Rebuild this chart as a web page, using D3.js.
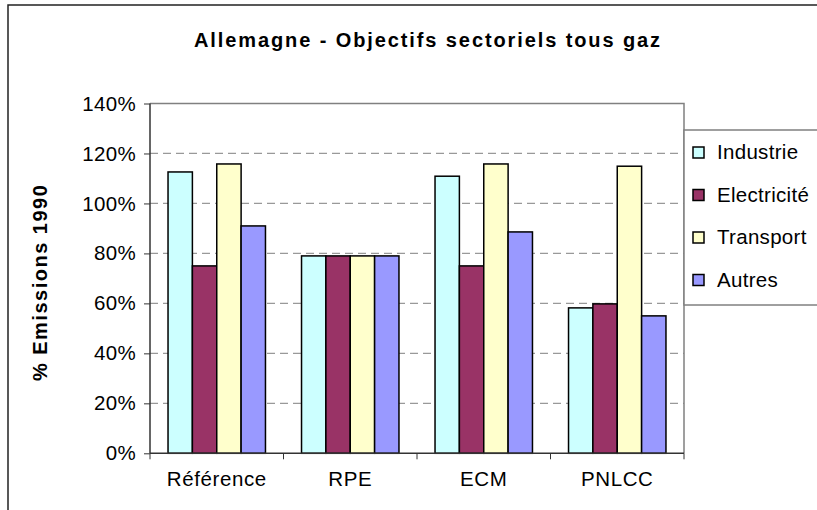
<!DOCTYPE html>
<html>
<head>
<meta charset="utf-8">
<script src="https://cdn.jsdelivr.net/npm/d3@7"></script>
<style>
body { margin: 0; background: #fff; }
text { font-family: Arial, "Liberation Sans", sans-serif; fill: #000; }
</style>
</head>
<body>
<div id="chart"></div>
<script>
var categories = ['Référence', 'RPE', 'ECM', 'PNLCC'];
var seriesNames = ['Industrie', 'Electricité', 'Transport', 'Autres'];
var industrie = [112.6, 79, 110.9, 58.2];
var electricite = [75, 79, 75, 59.8];
var transport = [115.8, 79, 115.8, 114.9];
var autres = [91, 79, 88.6, 55];
var yTicks = [0, 20, 40, 60, 80, 100, 120, 140];
var colors = ['#CCFFFF', '#993366', '#FFFFCC', '#9999FF'];

var seriesValues = [industrie, electricite, transport, autres];

var width = 817, height = 510;
var margin = {left: 150, top: 103.5, right: 133, bottom: 56.7};
var plotW = width - margin.left - margin.right;
var plotH = height - margin.top - margin.bottom;

var svg = d3.select("#chart").append("svg").attr("width", width).attr("height", height);

// outer chart border
svg.append("rect").attr("x", 8).attr("y", 5).attr("width", 840).attr("height", 540)
    .attr("fill", "none").attr("stroke", "#222").attr("stroke-width", 1.5);

var x0 = d3.scaleBand().domain(categories).range([0, plotW]).padding(0);
var x1 = d3.scaleBand().domain(seriesNames).range([0, x0.bandwidth()]).paddingInner(0).paddingOuter(0.74);
var y = d3.scaleLinear().domain([0, 140]).range([plotH, 0]);

var g = svg.append("g").attr("transform", "translate(" + margin.left + "," + margin.top + ")");

// grid
g.selectAll(".grid").data(yTicks.filter(function (d) { return d > 0 && d < 140; }))
    .enter().append("line")
    .attr("x1", 0).attr("x2", plotW)
    .attr("y1", function (d) { return y(d); }).attr("y2", function (d) { return y(d); })
    .attr("stroke", "#999").attr("stroke-width", 1.2).attr("stroke-dasharray", "8,5");

// plot frame top & right
g.append("path").attr("d", "M0,0H" + plotW + "V" + plotH)
    .attr("fill", "none").attr("stroke", "#808080").attr("stroke-width", 1.5);

// bars
var groups = g.selectAll(".cat").data(categories).enter().append("g")
    .attr("transform", function (d) { return "translate(" + x0(d) + ",0)"; });

groups.selectAll("rect").data(function (d, i) {
        return seriesNames.map(function (s, j) { return {s: s, v: seriesValues[j][i], c: colors[j]}; });
    })
    .enter().append("rect")
    .attr("x", function (d) { return x1(d.s); })
    .attr("y", function (d) { return y(d.v); })
    .attr("width", x1.bandwidth())
    .attr("height", function (d) { return plotH - y(d.v); })
    .attr("fill", function (d) { return d.c; })
    .attr("stroke", "#000").attr("stroke-width", 1.5);

// y axis
var yAxis = d3.axisLeft(y).tickValues(yTicks).tickSize(6).tickPadding(8)
    .tickFormat(function (d) { return d + "%"; });
var ya = g.append("g").call(yAxis);
ya.select(".domain").attr("stroke", "#333").attr("stroke-width", 1.5).attr("d", "M0,0V" + plotH);
ya.selectAll(".tick line").attr("stroke", "#333");
ya.selectAll("text").style("font-size", "20.5px").style("letter-spacing", "0.3px")
    .attr("font-family", "Arial, 'Liberation Sans', sans-serif");

// x axis
var xa = g.append("g").attr("transform", "translate(0," + plotH + ")")
    .call(d3.axisBottom(x0).tickSize(0).tickPadding(18));
xa.select(".domain").attr("stroke", "#333").attr("stroke-width", 1.5).attr("d", "M0,0H" + plotW);
xa.selectAll("text").style("font-size", "20.5px").style("letter-spacing", "0.6px")
    .attr("font-family", "Arial, 'Liberation Sans', sans-serif");
xa.selectAll(".sep").data(d3.range(categories.length + 1)).enter().append("line")
    .attr("x1", function (d) { return d * x0.step(); }).attr("x2", function (d) { return d * x0.step(); })
    .attr("y1", 0).attr("y2", 6).attr("stroke", "#333").attr("stroke-width", 1);

// title
svg.append("text").attr("x", 428).attr("y", 47).attr("text-anchor", "middle")
    .style("font-size", "20px").style("font-weight", "bold").style("letter-spacing", "1.9px")
    .text("Allemagne - Objectifs sectoriels tous gaz");

// y title
svg.append("text").attr("transform", "translate(47," + (margin.top + plotH / 2 + 4) + ") rotate(-90)")
    .attr("text-anchor", "middle").style("font-size", "20px").style("font-weight", "bold")
    .style("letter-spacing", "1.5px")
    .text("% Emissions 1990");

// legend
var legend = svg.append("g").attr("transform", "translate(684,130)");
legend.append("rect").attr("x", 0).attr("y", 0).attr("width", 200).attr("height", 175)
    .attr("fill", "#fff").attr("stroke", "#808080").attr("stroke-width", 1.5);
var items = legend.selectAll(".item").data(seriesNames).enter().append("g")
    .attr("transform", function (d, i) { return "translate(0," + (22 + i * 42.5) + ")"; });
items.append("rect").attr("x", 9).attr("y", -5).attr("width", 11).attr("height", 11)
    .attr("fill", function (d, i) { return colors[i]; }).attr("stroke", "#000").attr("stroke-width", 1.5);
items.append("text").attr("x", 33).attr("y", 7).style("font-size", "20.5px")
    .style("letter-spacing", "0.3px")
    .text(function (d) { return d; });
</script>
</body>
</html>
